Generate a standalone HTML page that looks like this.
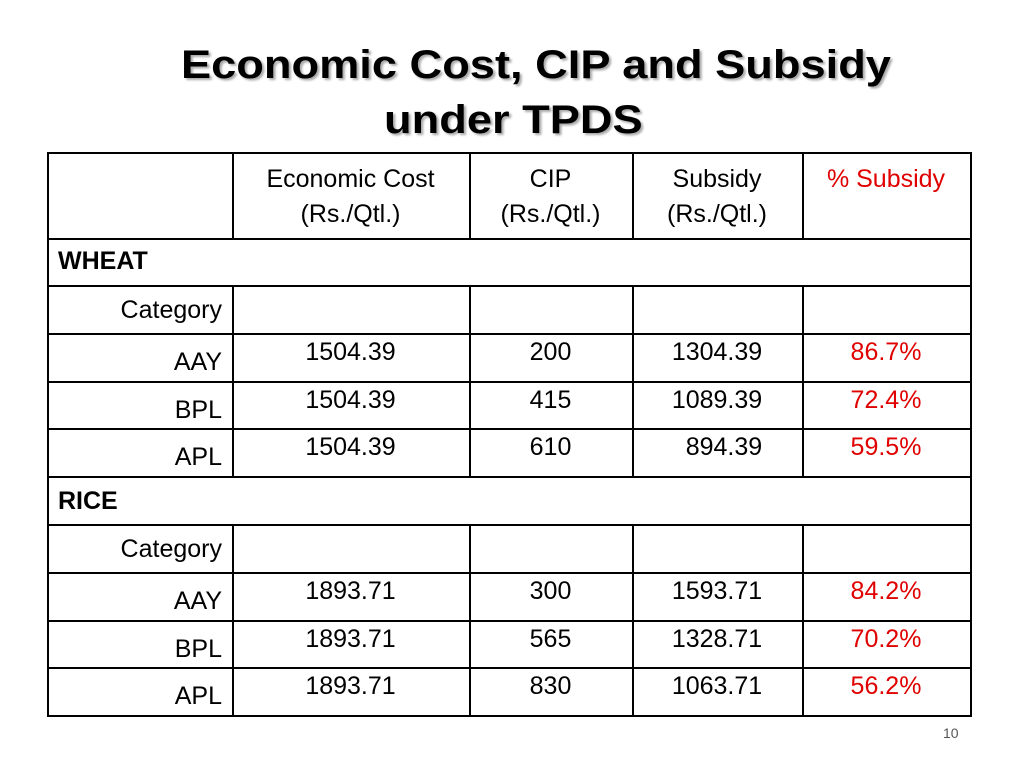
<!DOCTYPE html>
<html><head><meta charset="utf-8"><style>
body{margin:0;width:1024px;height:768px;background:#fff;position:relative;overflow:hidden;font-family:"Liberation Sans",sans-serif}
.t{position:absolute;font-weight:bold;font-size:40px;line-height:46px;color:#000;text-shadow:2px 2px 2px #aaa;white-space:nowrap;transform-origin:0 0;transform:scaleX(1.13)}
.h{position:absolute;background:#000;height:1.5px}
.v{position:absolute;background:#000;width:1.5px}
.x{position:absolute;font-size:25px;line-height:30px;white-space:nowrap;color:#000}
.red{color:#e00000}
.b{font-weight:bold}
</style></head><body>
<div class="t" style="left:181px;top:42px">Economic Cost, CIP and Subsidy</div>
<div class="t" style="left:384px;top:97px">under TPDS</div>
<div id="tbl"></div>
<div style="position:absolute;left:943px;top:725px;font-size:14px;color:#555">10</div>
<script>
const ys=[152,238,285,333,381,428,476,524,572,620,667,715];
const xs=[47,232,469,632,802,970];
const tbl=document.getElementById('tbl');
function add(cls,style,txt,name){const d=document.createElement('div');d.className=cls;d.setAttribute('style',style);if(txt!==undefined)d.innerHTML=txt;


tbl.appendChild(d);}
const full=[0,1,2,6,7,11];
ys.forEach((y,i)=>{const l=full.includes(i)?xs[0]:xs[0];add('h',`left:${l}px;top:${y}px;width:${xs[5]-l+1.5}px`,undefined,'row-line');});
xs.forEach((x,j)=>{
 if(j===0||j===5){add('v',`left:${x}px;top:${ys[0]}px;height:${ys[11]-ys[0]}px`,undefined,'col-line');}
 else{[[0,1],[2,6],[7,11]].forEach(([a,b])=>add('v',`left:${x}px;top:${ys[a]}px;height:${ys[b]-ys[a]}px`,undefined,'col-line'));}
});
function center(j,top,txt,red,name){const w=xs[j+1]-xs[j];add('x'+(red?' red':''),`left:${xs[j]}px;width:${w}px;text-align:center;top:${top}px`,txt,name);}
const heads=['Economic Cost<br>(Rs./Qtl.)','CIP<br>(Rs./Qtl.)','Subsidy<br>(Rs./Qtl.)','% Subsidy'];
heads.forEach((h,k)=>add('x'+(k===3?' red':''),`left:${xs[k+1]}px;width:${xs[k+2]-xs[k+1]}px;text-align:center;top:162px;line-height:35px`,h,'header-cell'));
add('x b',`left:58px;top:246px`,'WHEAT','wheat-label');
add('x b',`left:58px;top:486px`,'RICE','rice-label');
const rows=[[3,'Category'],[4,'AAY',['1504.39','200','1304.39','86.7%']],[5,'BPL',['1504.39','415','1089.39','72.4%']],[6,'APL',['1504.39','610','&nbsp;&nbsp;894.39','59.5%']],
[8,'Category'],[9,'AAY',['1893.71','300','1593.71','84.2%']],[10,'BPL',['1893.71','565','1328.71','70.2%']],[11,'APL',['1893.71','830','1063.71','56.2%']]];
rows.forEach(([i,lab,vals])=>{const top=ys[i-1];
 add('x',`left:${xs[0]}px;width:${xs[1]-xs[0]-10}px;text-align:right;top:${top+(lab==='Category'?10:14)}px`,lab,'row-label');
 if(vals)vals.forEach((v,k)=>center(k+1,top+4,v,k===3,'value-cell'));
});
</script>
</body></html>
